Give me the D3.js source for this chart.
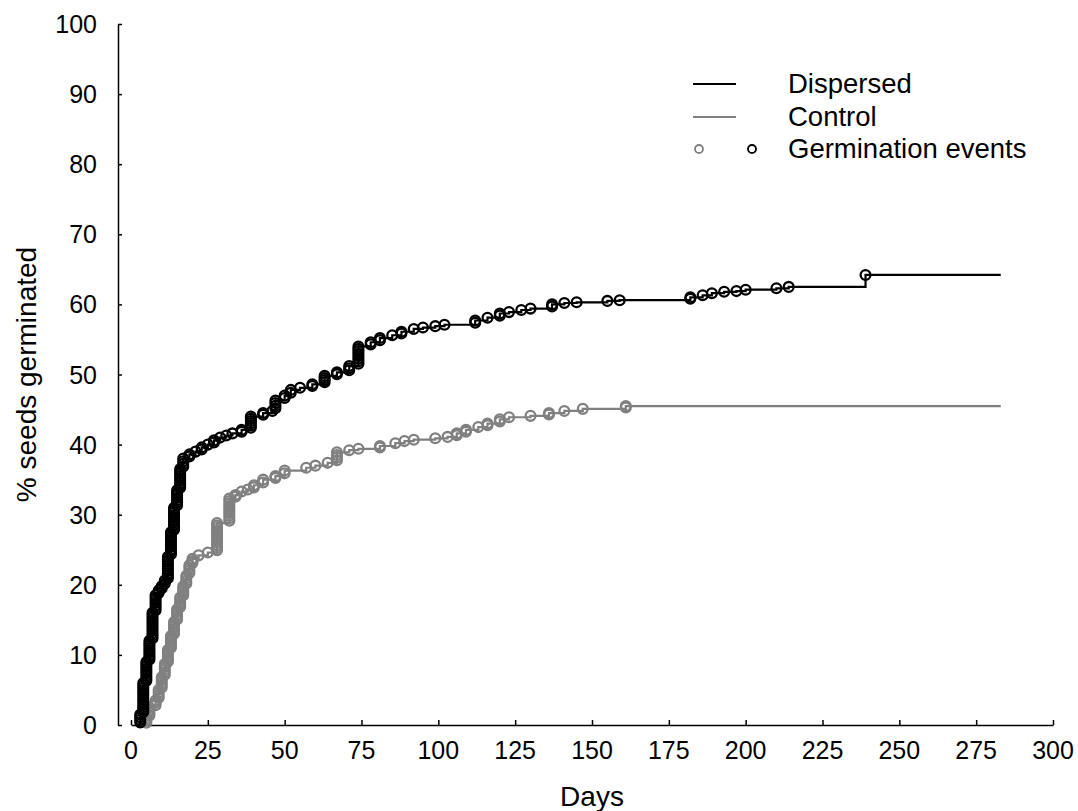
<!DOCTYPE html>
<html>
<head>
<meta charset="utf-8">
<script src="https://cdn.jsdelivr.net/npm/d3@7"></script>
<style>
  body { margin: 0; background: #fff; }
  text { font-family: Arial, 'Liberation Sans', sans-serif; fill: #000; }
</style>
</head>
<body>
<div id="chart"></div>
<script>
// germination events: day, cumulative % after that day, seeds germinated that day
const dispersedDays  = [3, 4, 5, 6, 7, 8, 9, 10, 11, 12, 13, 14, 15, 16, 17, 19, 21, 23, 25, 27, 29, 31, 33, 36, 39, 43, 46, 47, 50, 52, 55, 59, 63, 67, 71, 74, 78, 81, 85, 88, 92, 95, 99, 102, 112, 116, 120, 123, 127, 130, 137, 141, 145, 155, 159, 182, 186, 189, 193, 197, 200, 210, 214, 239]
const dispersedPct   = [1.5, 6.0, 9.0, 12.0, 16.0, 18.5, 19.2, 19.8, 20.6, 24.0, 27.5, 31.0, 33.5, 36.5, 38.0, 38.6, 39.0, 39.6, 40.0, 40.6, 41.0, 41.3, 41.6, 42.1, 44.0, 44.5, 44.8, 46.3, 47.0, 47.8, 48.1, 48.6, 49.8, 50.3, 51.2, 54.0, 54.6, 55.2, 55.6, 56.1, 56.5, 56.7, 56.9, 57.1, 57.7, 58.1, 58.7, 58.9, 59.2, 59.4, 60.0, 60.2, 60.3, 60.5, 60.6, 61.0, 61.3, 61.6, 61.8, 61.9, 62.1, 62.3, 62.5, 64.2]
const dispersedSeeds = [4, 13, 9, 9, 11, 7, 2, 2, 2, 10, 10, 10, 7, 9, 4, 2, 1, 2, 1, 2, 1, 1, 1, 2, 6, 2, 1, 4, 2, 2, 1, 2, 4, 2, 3, 8, 2, 2, 1, 2, 1, 1, 1, 1, 2, 1, 2, 1, 1, 1, 2, 1, 1, 1, 1, 2, 1, 1, 1, 1, 1, 1, 1, 1]

const controlDays  = [5, 6, 8, 9, 10, 11, 12, 13, 14, 15, 16, 17, 18, 19, 20, 22, 25, 28, 32, 34, 36, 38, 40, 43, 47, 50, 57, 60, 64, 67, 71, 74, 81, 86, 89, 92, 99, 103, 106, 109, 113, 116, 120, 123, 130, 136, 141, 147, 161]
const controlPct   = [1.0, 2.5, 3.5, 5.0, 6.8, 8.7, 10.7, 12.7, 14.7, 16.5, 18.2, 19.8, 21.3, 22.8, 23.7, 24.2, 24.6, 28.8, 32.3, 32.8, 33.3, 33.6, 34.2, 35.0, 35.5, 36.3, 36.7, 37.0, 37.4, 38.9, 39.2, 39.4, 39.8, 40.2, 40.5, 40.7, 40.9, 41.1, 41.6, 42.1, 42.5, 43.0, 43.6, 43.9, 44.1, 44.5, 44.8, 45.1, 45.5]
const controlSeeds = [3, 4, 3, 4, 5, 5, 6, 6, 6, 5, 5, 5, 4, 4, 3, 1, 1, 12, 10, 2, 1, 1, 2, 2, 2, 2, 1, 1, 1, 4, 1, 1, 2, 1, 1, 1, 1, 1, 2, 2, 1, 2, 2, 1, 1, 2, 1, 1, 2]

const lastDay = 283

const xTicks = [0, 25, 50, 75, 100, 125, 150, 175, 200, 225, 250, 275, 300]
const yTicks = [0, 10, 20, 30, 40, 50, 60, 70, 80, 90, 100]

const WIDTH = 1078
const HEIGHT = 811
const GRAY = '#808080'

const svg = d3.select('#chart').append('svg')
                               .attr('width', WIDTH)
                               .attr('height', HEIGHT)

const x = d3.scaleLinear().domain([0, 300]).range([131, 1053])
const y = d3.scaleLinear().domain([0, 100]).range([725, 24])
const Y_AXIS_X = 118

// axes
const yAxis = svg.append('g')
                   .attr('transform', `translate(${Y_AXIS_X},0)`)
                   .call(d3.axisRight(y).tickValues(yTicks).tickSize(4).tickSizeOuter(0).tickFormat(''))
yAxis.select('.domain').attr('stroke', '#000').attr('stroke-width', 1.5)
yAxis.selectAll('.tick line').attr('stroke', '#000').attr('stroke-width', 1.5)

svg.append('g')
     .selectAll('text')
     .data(yTicks)
     .enter()
       .append('text')
       .attr('x', 97)
       .attr('y', d => y(d))
       .attr('dy', '0.36em')
       .attr('text-anchor', 'end')
       .attr('font-size', 25)
       .text(d => d)

const xAxis = svg.append('g')
                   .attr('transform', `translate(0,${y(0)})`)
                   .call(d3.axisTop(x).tickValues(xTicks).tickSize(5).tickSizeOuter(0).tickFormat(''))
xAxis.select('.domain').attr('stroke', '#000').attr('stroke-width', 1.5)
xAxis.selectAll('.tick line').attr('stroke', '#000').attr('stroke-width', 1.5)

svg.append('g')
     .selectAll('text')
     .data(xTicks)
     .enter()
       .append('text')
       .attr('x', d => x(d))
       .attr('y', 759)
       .attr('text-anchor', 'middle')
       .attr('font-size', 25)
       .text(d => d)

svg.append('text')
     .attr('x', (x(0) + x(300)) / 2)
     .attr('y', 806)
     .attr('text-anchor', 'middle')
     .attr('font-size', 28)
     .text('Days')

svg.append('text')
     .attr('transform', `translate(36,${(y(0) + y(100)) / 2}) rotate(-90)`)
     .attr('text-anchor', 'middle')
     .attr('font-size', 28)
     .text('% seeds germinated')

// series
const drawSeries = (days, pct, seeds, color) => {
  const pts = [{ d: days[0], p: 0 }]
  days.forEach((d, i) => pts.push({ d: d, p: pct[i] }))
  pts.push({ d: lastDay, p: pct[pct.length - 1] })

  svg.append('path')
       .datum(pts)
       .attr('fill', 'none')
       .attr('stroke', color)
       .attr('stroke-width', 2.2)
       .attr('d', d3.line().x(e => x(e.d)).y(e => y(e.p)).curve(d3.curveStepAfter))

  // one ring per germinated seed
  const rings = []
  days.forEach((d, i) => {
    const from = i === 0 ? 0 : pct[i - 1]
    for (let k = 1; k <= seeds[i]; k++) {
      rings.push({ d: d, p: from + (pct[i] - from) * k / seeds[i] })
    }
  })

  svg.append('g')
       .selectAll('circle')
       .data(rings)
       .enter()
         .append('circle')
         .attr('cx', e => x(e.d))
         .attr('cy', e => y(e.p))
         .attr('r', 4.9)
         .attr('fill', 'none')
         .attr('stroke', color)
         .attr('stroke-width', 2.3)
}

drawSeries(controlDays, controlPct, controlSeeds, GRAY)
drawSeries(dispersedDays, dispersedPct, dispersedSeeds, '#000')

// legend
const legend = svg.append('g')
legend.append('line')
        .attr('x1', 693).attr('x2', 736).attr('y1', 84).attr('y2', 84)
        .attr('stroke', '#000').attr('stroke-width', 2)
legend.append('line')
        .attr('x1', 693).attr('x2', 736).attr('y1', 117).attr('y2', 117)
        .attr('stroke', GRAY).attr('stroke-width', 2)
legend.append('circle')
        .attr('cx', 699).attr('cy', 149).attr('r', 4)
        .attr('fill', 'none').attr('stroke', GRAY).attr('stroke-width', 1.8)
legend.append('circle')
        .attr('cx', 752).attr('cy', 149).attr('r', 4)
        .attr('fill', 'none').attr('stroke', '#000').attr('stroke-width', 1.8)

const legendLabels = ['Dispersed', 'Control', 'Germination events']
legend.selectAll('text')
        .data(legendLabels)
        .enter()
          .append('text')
          .attr('x', 788)
          .attr('y', (d, i) => 93 + i * 32.5)
          .attr('font-size', 27.5)
          .text(d => d)
</script>
</body>
</html>
